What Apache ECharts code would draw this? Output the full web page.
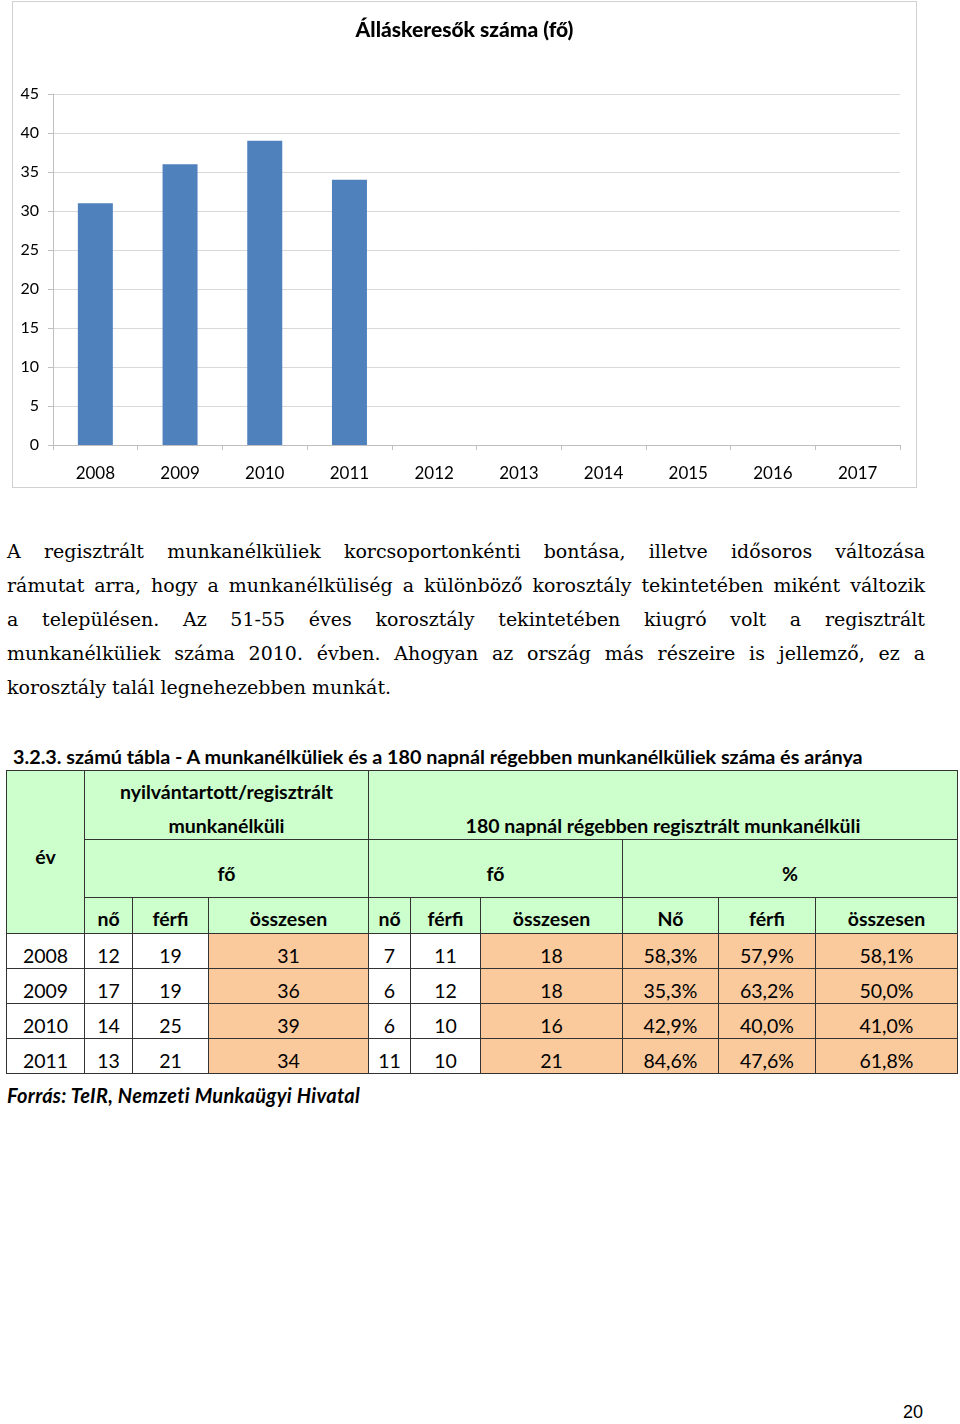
<!DOCTYPE html>
<html lang="hu">
<head>
<meta charset="UTF-8">
<title>Álláskeresők száma</title>
<script src="https://cdn.jsdelivr.net/npm/echarts@6/dist/echarts.min.js"></script>
<style>
    body { margin: 0; background: #fff; width: 960px; height: 1424px; position: relative; font-family: Lato, "Open Sans", sans-serif; color: #000; }
    #chart { position: absolute; left: 12px; top: 1px; width: 903px; height: 485px; border: 1px solid #d0d0d0; }
    #text { position: absolute; left: 7px; top: 534px; width: 918px; font-family: "DejaVu Serif", serif; font-size: 19px; }
    #text div { height: 34px; line-height: 34px; text-align: justify; text-align-last: justify; white-space: nowrap; }
    #text div.last { text-align-last: left; }
    #caption { position: absolute; left: 13px; top: 744px; font-weight: bold; font-size: 19.8px; white-space: nowrap; }
    #tbl { position: absolute; left: 6px; top: 770px; border-collapse: collapse; table-layout: fixed; font-size: 19.5px; }
    #tbl td { border: 1px solid #333; padding: 0; text-align: center; }
    #tbl .h { background: #ccffcc; font-weight: bold; }
    #tbl .o { background: #fac99c; }
    #tbl .d td { padding-top: 8px; }
    #tbl span.dn { position: relative; top: 4px; }
    #source { position: absolute; left: 7px; top: 1083px; font-weight: bold; font-style: italic; font-size: 20px; letter-spacing: 0.3px; white-space: nowrap; }
    #page { position: absolute; left: 903px; top: 1402px; font-family: "Liberation Sans", Arial, sans-serif; font-size: 18px; }
</style>
</head>
<body>
<div id="chart"></div>
<div id="text">
    <div>A regisztrált munkanélküliek korcsoportonkénti bontása, illetve idősoros változása</div>
    <div>rámutat arra, hogy a munkanélküliség a különböző korosztály tekintetében miként változik</div>
    <div>a településen. Az 51-55 éves korosztály tekintetében kiugró volt a regisztrált</div>
    <div>munkanélküliek száma 2010. évben. Ahogyan az ország más részeire is jellemző, ez a</div>
    <div class="last">korosztály talál legnehezebben munkát.</div>
</div>
<div id="caption">3.2.3. számú tábla - A munkanélküliek és a 180 napnál régebben munkanélküliek száma és aránya</div>
<table id="tbl"></table>
<div id="source">Forrás: TeIR, Nemzeti Munkaügyi Hivatal</div>
<div id="page">20</div>

<script type="text/javascript">
    // diagram adatai
    var years = ['2008', '2009', '2010', '2011', '2012', '2013', '2014', '2015', '2016', '2017'];
    var jobSeekers = [31, 36, 39, 34];

    // táblázat adatai
    var tableYears = ['2008', '2009', '2010', '2011'];
    var regNo = [12, 17, 14, 13];
    var regFerfi = [19, 19, 25, 21];
    var regOssz = [31, 36, 39, 34];
    var longNo = [7, 6, 6, 11];
    var longFerfi = [11, 12, 10, 10];
    var longOssz = [18, 18, 16, 21];
    var pctNo = ['58,3%', '35,3%', '42,9%', '84,6%'];
    var pctFerfi = ['57,9%', '63,2%', '40,0%', '47,6%'];
    var pctOssz = ['58,1%', '50,0%', '41,0%', '61,8%'];

    var colWidths = [78, 48, 76, 160, 42, 70, 142, 96, 97, 142];

    var html = '<colgroup>';
    for (var c = 0; c < colWidths.length; c++) {
        html += '<col style="width:' + colWidths[c] + 'px">';
    }
    html += '</colgroup>';
    html += '<tr style="height:69px">' +
        '<td class="h" rowspan="3" style="padding-top:8px">év</td>' +
        '<td class="h" colspan="3" style="line-height:34px"><span class="dn">nyilvántartott/regisztrált<br>munkanélküli</span></td>' +
        '<td class="h" colspan="6" style="vertical-align:bottom;line-height:34px"><span class="dn">180 napnál régebben regisztrált munkanélküli</span></td></tr>';
    html += '<tr style="height:58px">' +
        '<td class="h" colspan="3" style="padding-top:10px">fő</td>' +
        '<td class="h" colspan="3" style="padding-top:10px">fő</td>' +
        '<td class="h" colspan="3" style="padding-top:10px">%</td></tr>';
    html += '<tr style="height:36px">';
    var sub = ['nő', 'férfi', 'összesen', 'nő', 'férfi', 'összesen', 'Nő', 'férfi', 'összesen'];
    for (var s = 0; s < sub.length; s++) {
        html += '<td class="h" style="padding-top:6px">' + sub[s] + '</td>';
    }
    html += '</tr>';
    for (var i = 0; i < tableYears.length; i++) {
        html += '<tr class="d" style="height:35px">' +
            '<td>' + tableYears[i] + '</td>' +
            '<td>' + regNo[i] + '</td>' +
            '<td>' + regFerfi[i] + '</td>' +
            '<td class="o">' + regOssz[i] + '</td>' +
            '<td>' + longNo[i] + '</td>' +
            '<td>' + longFerfi[i] + '</td>' +
            '<td class="o">' + longOssz[i] + '</td>' +
            '<td class="o">' + pctNo[i] + '</td>' +
            '<td class="o">' + pctFerfi[i] + '</td>' +
            '<td class="o">' + pctOssz[i] + '</td></tr>';
    }
    document.getElementById('tbl').innerHTML = html;

    var myChart = echarts.init(document.getElementById('chart'));
    var option = {
        animation: false,
        title: {
            text: 'Álláskeresők száma (fő)',
            left: 'center',
            top: 13,
            textStyle: {
                fontFamily: 'Lato',
                fontSize: 21,
                fontWeight: 900,
                color: '#000'
            }
        },
        grid: {
            left: 40,
            right: 16,
            top: 92,
            bottom: 42
        },
        xAxis: {
            type: 'category',
            data: years,
            axisLine: {lineStyle: {color: '#bfbfbf'}},
            axisTick: {show: true, length: 5, lineStyle: {color: '#bfbfbf'}},
            axisLabel: {
                color: '#000',
                fontFamily: 'Lato',
                fontSize: 17,
                margin: 20
            }
        },
        yAxis: {
            type: 'value',
            min: 0,
            max: 45,
            interval: 5,
            axisLine: {show: true, lineStyle: {color: '#bfbfbf'}},
            axisTick: {show: true, length: 5, lineStyle: {color: '#bfbfbf'}},
            splitLine: {lineStyle: {color: '#d9d9d9'}},
            axisLabel: {
                color: '#000',
                fontFamily: 'Lato',
                fontSize: 16,
                margin: 14
            }
        },
        series: [
            {
                type: 'bar',
                data: jobSeekers,
                barWidth: 35,
                itemStyle: {color: '#4f81bd'}
            }
        ]
    };
    myChart.setOption(option);
</script>
</body>
</html>
